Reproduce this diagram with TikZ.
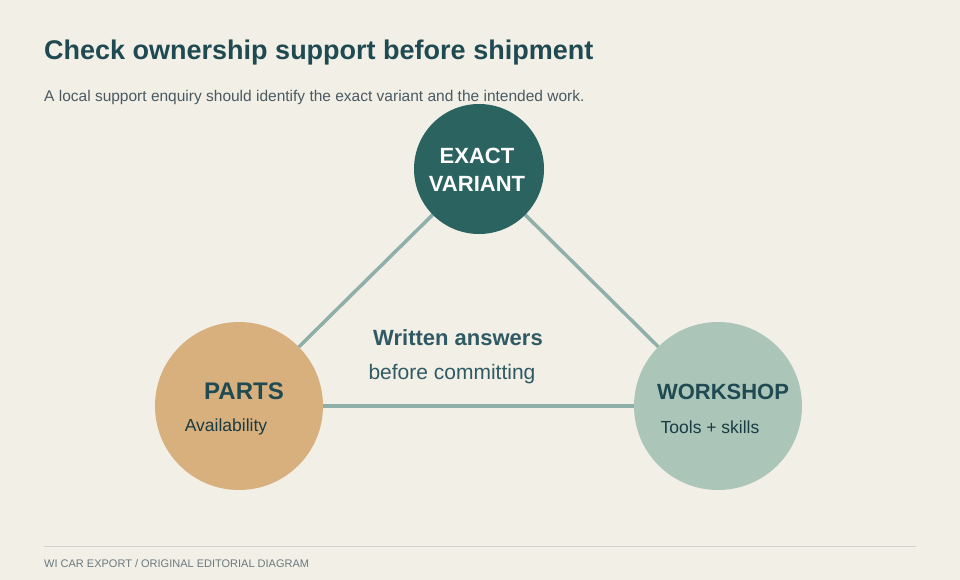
\documentclass[tikz,border=0pt]{standalone}
\usepackage{fontspec}
\setmainfont{Liberation Sans}
\definecolor{bg}{HTML}{F2EFE7}
\definecolor{ttl}{HTML}{1F4A52}
\definecolor{sub}{HTML}{4A5A60}
\definecolor{topc}{HTML}{2A6360}
\definecolor{leftc}{HTML}{D8B07E}
\definecolor{rightc}{HTML}{ABC6B9}
\definecolor{lnc}{HTML}{8FB0A8}
\definecolor{mid}{HTML}{2F5A63}
\definecolor{foot}{HTML}{6A7A7E}
\definecolor{rule}{HTML}{D0D4CC}
\begin{document}
\begin{tikzpicture}[x=1pt,y=-1pt,
  circ/.style={circle,inner sep=0pt},
  link/.style={lnc,line width=3.5pt},
  lbl/.style={inner sep=0pt,anchor=center}]
\fill[bg] (0,0) rectangle (960,580);
\useasboundingbox (0,0) rectangle (960,580);
\node[lbl,anchor=base west,text=ttl,font=\fontsize{27}{30}\selectfont\bfseries] (title) at (44,60) {Check ownership support before shipment};
\node[lbl,anchor=base west,text=sub,font=\fontsize{15.5}{18}\selectfont] (subt) at (44,102) {A local support enquiry should identify the exact variant and the intended work.};
\coordinate (T) at (479,169);
\coordinate (L) at (239,406);
\coordinate (R) at (718,406);
\draw[link] (T) -- (L);
\draw[link] (T) -- (R);
\draw[link] (L) -- (R);
\node[circ,fill=topc,minimum size=130pt] (top) at (T) {};
\node[circ,fill=leftc,minimum size=168pt] (left) at (L) {};
\node[circ,fill=rightc,minimum size=168pt] (right) at (R) {};
\node[lbl,text=white,font=\fontsize{22}{28}\selectfont\bfseries,align=center] (tt) at (477,170) {EXACT\\VARIANT};
\node[lbl,text=ttl,font=\fontsize{24}{28}\selectfont\bfseries] (lt) at (244,391) {PARTS};
\node[lbl,text=ttl!80!black,font=\fontsize{17.5}{20}\selectfont] (ls) at (226,427) {Availability};
\node[lbl,text=ttl,font=\fontsize{22}{26}\selectfont\bfseries] (rt) at (723,392) {WORKSHOP};
\node[lbl,text=ttl!80!black,font=\fontsize{17.5}{20}\selectfont] (rs) at (710,427) {Tools + skills};
\node[lbl,text=mid,font=\fontsize{22}{26}\selectfont\bfseries] (m1) at (458,338) {Written answers};
\node[lbl,text=mid,font=\fontsize{21}{24}\selectfont] (m2) at (452,374) {before committing};
\draw[rule,line width=1pt] (44,546) -- (916,546);
\node[lbl,anchor=base west,text=foot,font=\fontsize{11}{13}\selectfont] (ft) at (44,567) {WI CAR EXPORT / ORIGINAL EDITORIAL DIAGRAM};
\end{tikzpicture}
\end{document}
